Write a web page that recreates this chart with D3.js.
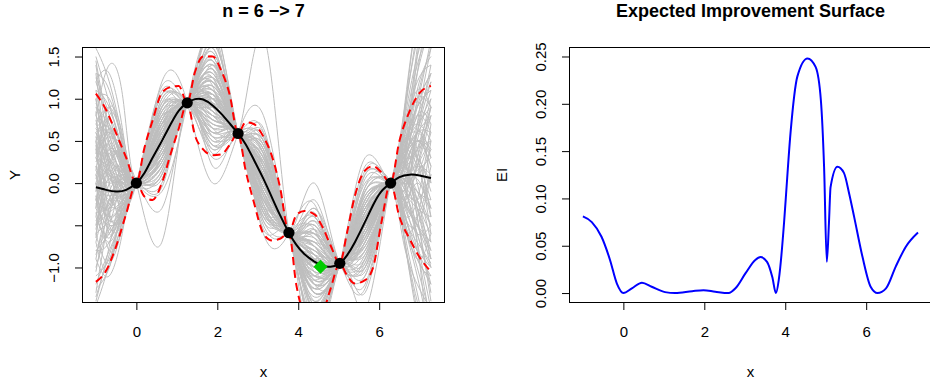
<!DOCTYPE html>
<html lang="en">
<head>
<meta charset="UTF-8">
<title>GP / EI</title>
<script src="https://cdn.jsdelivr.net/npm/d3@7"></script>
<style>
  body { margin: 0; background: #ffffff; }
  text { font-family: "Liberation Sans", Arial, Helvetica, sans-serif; fill: #000; }
  .tick text { font-size: 15px; }
  text.lab { font-size: 15px; }
  text.title { font-size: 18px; font-weight: bold; }
</style>
</head>
<body>
<div id="chart"></div>
<script>
// observed design points (black dots) and the chosen next point (green diamond)
const obsX = [0, 1.257, 2.513, 3.77, 5.027, 6.283];
const obsY = [0, 0.951, 0.588, -0.588, -0.951, 0];
const nextX = [4.55];
const nextY = [-0.99];

// predictive mean and 90% band
const bandX = [-1, -0.75, -0.5, -0.25, 0, 0.2, 0.4, 0.63, 0.85, 1.05, 1.257, 1.45, 1.65, 1.885, 2.1, 2.3, 2.513,
  2.7, 2.9, 3.14, 3.35, 3.55, 3.77, 3.95, 4.15, 4.4, 4.6, 4.8, 5.027, 5.2, 5.4, 5.65, 5.85, 6.05, 6.283, 6.5, 6.75, 7.0, 7.28];
const meanY = [-0.05, -0.08, -0.10, -0.08, 0.0, 0.12, 0.3, 0.5, 0.70, 0.86, 0.951, 0.995, 0.99, 0.92, 0.82, 0.71, 0.588,
  0.46, 0.28, 0.05, -0.17, -0.38, -0.588, -0.73, -0.84, -0.93, -0.98, -0.99, -0.951, -0.86, -0.70, -0.46, -0.26, -0.1, 0.0, 0.07, 0.10, 0.09, 0.06];
const upperY = [1.06, 0.87, 0.59, 0.3, 0.0, 0.42, 0.74, 1.07, 1.14, 1.15, 0.951, 1.32, 1.5, 1.5, 1.33, 1.06, 0.588,
  0.72, 0.70, 0.55, 0.32, -0.05, -0.588, -0.38, -0.33, -0.37, -0.52, -0.74, -0.951, -0.6, -0.15, 0.15, 0.2, 0.13, 0.0, 0.5, 0.85, 1.07, 1.15];
const lowerY = [-1.17, -1.04, -0.75, -0.36, 0.0, -0.16, -0.2, 0.0, 0.35, 0.65, 0.951, 0.56, 0.40, 0.33, 0.34, 0.45, 0.588,
  0.15, -0.22, -0.6, -0.68, -0.66, -0.588, -1.2, -1.55, -1.65, -1.55, -1.25, -0.951, -1.09, -1.19, -1.15, -1.0, -0.48, 0.0, -0.4, -0.66, -0.88, -1.05];

// gray posterior sample paths: values between the design points (they all pass through the dots)
const grayFreeX = [-1, -0.67, -0.33, 0.63, 1.885, 3.14, 4.4, 5.65, 6.6, 6.94, 7.28];
const grayPaths = [
  [0.9, 0.5, 0.15, 0.75, 1.2, 0.2, -0.7, -0.3, 0.3, 0.6, 0.8],
  [-0.8, -0.6, -0.3, 0.3, 0.7, -0.2, -1.2, -0.7, -0.2, -0.5, -0.7],
  [0.3, 0.6, 0.25, 0.9, 1.35, 0.4, -0.5, -0.2, 0.45, 0.9, 1.1],
  [-0.3, -0.5, -0.35, 0.15, 0.5, -0.35, -1.4, -0.9, -0.35, -0.7, -0.95],
  [1.2, 0.7, 0.2, 0.6, 1.05, 0.1, -0.9, -0.45, 0.1, 0.2, 0.1],
  [-1.1, -0.9, -0.45, 0.4, 0.85, 0.05, -1.0, -0.5, 0.05, -0.1, -0.3],
  [0.1, -0.2, -0.15, 0.55, 1.45, 0.55, -0.4, 0.05, 0.6, 1.0, 1.3],
  [0.6, 0.1, -0.2, 0.0, 0.4, -0.45, -1.5, -1.0, -0.45, -0.9, -1.2],
  [-0.5, 0.2, 0.3, 1.0, 0.95, -0.1, -0.8, -0.6, 0.25, 0.3, -0.1],
  [0.4, -0.4, -0.4, 0.25, 1.1, 0.3, -1.1, -0.25, -0.1, 0.4, 0.9],
  [1.5, 0.95, 0.3, 0.7, 0.6, -0.25, -0.6, -0.8, 0.35, -0.2, -0.6],
  [-1.3, -0.4, 0.1, 0.45, 1.3, 0.15, -1.3, -0.1, -0.3, 0.7, 1.6],
  [0.0, 0.35, -0.05, 0.85, 0.8, 0.35, -0.95, -0.55, 0.5, 1.3, 1.9],
  [0.7, 0.85, 0.35, 0.2, 1.55, -0.05, -0.75, -0.35, -0.4, -1.0, -1.6],
  [-0.6, -0.95, -0.5, 0.6, 0.3, 0.45, -1.6, -0.75, 0.2, 0.1, 0.4],
  [0.2, 0.0, 0.0, 1.15, 1.0, -0.5, -0.55, 0.15, 0.15, 0.5, 0.3],
  [-0.2, 0.4, 0.2, -0.1, 1.75, 0.25, -1.25, -1.1, -0.15, -0.4, 0.2],
  [1.0, 1.0, 0.45, 0.5, 0.65, 0.6, -0.3, -0.4, 0.0, -0.6, -1.0],
  [-0.9, -0.2, 0.05, 0.35, 1.25, -0.3, -1.05, 0.0, 0.4, 0.8, 0.6],
  [0.5, -0.6, -0.25, 0.7, 0.9, 0.0, -1.75, -0.65, -0.5, -0.4, 0.5],
  [-0.1, 0.65, 0.1, 0.95, 0.55, 0.2, -0.45, -0.95, 0.25, 1.1, 1.5],
  [1.3, 0.2, -0.3, 0.4, 1.4, -0.4, -0.85, -0.2, 0.1, -0.3, -0.9],
  [-0.7, -1.0, -0.2, 0.55, 1.05, 0.5, -1.35, -0.45, 0.55, 0.3, -0.2],
  [0.3, 0.2, 0.15, -0.7, 0.2, -0.15, -0.7, -1.25, -0.2, 0.2, 0.9],
  [-1.4, -0.75, -0.1, 0.8, 1.9, 0.1, -0.0, -0.6, 0.3, -0.7, -2.2],
  [0.8, 1.4, 1.0, 0.65, 0.75, -0.1, -1.2, 0.3, 0.7, 2.0, 2.6],
  [-0.4, 0.1, -0.4, 0.3, 1.15, 1.75, -0.9, -0.35, -0.6, -1.4, -2.0],
  [1.45, 0.6, 0.0, 0.45, 1.65, -0.3, -2.0, -1.5, -0.1, 0.6, 0.0],
  [0.1, -0.3, 0.25, 1.2, 0.0, 0.8, -1.15, -0.75, 0.8, 1.7, 2.3],
  [-1.0, -0.55, -0.35, 0.1, 0.6, -0.6, -0.25, -0.05, -0.7, -1.2, -1.5],
  [0.55, 0.3, 0.05, 0.6, 1.0, 0.15, -1.0, -0.5, 0.1, 0.05, -0.3],
  [-0.2, -0.3, -0.1, 0.5, 0.85, 0.0, -0.85, -0.4, 0.05, 0.15, 0.3],
  [0.2, 0.1, -0.05, 0.65, 1.1, 0.1, -1.05, -0.6, 0.2, 0.4, 0.5],
  [-0.5, -0.35, -0.2, 0.35, 0.75, -0.1, -0.75, -0.3, -0.1, -0.3, -0.4],
  [0.7, 0.4, 0.1, 0.4, 0.95, 0.25, -0.95, -0.35, 0.15, -0.1, -0.5],
  [-0.05, -0.15, -0.1, 0.55, 1.2, -0.2, -1.15, -0.55, 0.0, 0.6, 1.0],
  [0.4, 0.25, 0.1, 0.75, 0.7, 0.05, -0.65, -0.7, 0.3, 0.5, 0.2],
  [-0.6, -0.45, -0.25, 0.25, 1.0, 0.35, -1.2, -0.2, -0.25, -0.6, -0.5],
  [0.95, 0.55, 0.2, 0.5, 0.8, -0.35, -0.9, -0.45, 0.2, 0.8, 0.7],
  [-0.25, 0.05, 0.0, 0.6, 1.3, 0.3, -0.6, -0.85, -0.05, -0.2, 0.1],
  [0.15, -0.1, -0.15, 0.45, 0.9, -0.05, -1.3, -0.3, 0.35, 0.3, 0.0],
  [-0.8, -0.7, -0.3, 0.7, 1.05, 0.2, -0.8, -0.65, -0.15, -0.5, -0.8],
  [0.6, 0.65, 0.25, 0.3, 0.65, -0.2, -1.0, -0.15, 0.45, 0.6, 0.4],
  [-0.35, -0.25, 0.05, 0.9, 1.15, 0.1, -0.7, -0.5, 0.0, 0.1, 0.6],
  [0.25, 0.45, 0.15, 0.2, 0.85, 0.4, -1.1, -0.4, 0.2, 0.9, 1.3],
  [1.1, 0.3, -0.15, 0.65, 1.35, -0.15, -0.95, -0.7, -0.3, -0.8, -1.1],
  [-0.45, -0.1, 0.15, 0.4, 0.6, 0.0, -1.45, -0.3, 0.1, -0.2, -0.9],
  [0.0, -0.45, -0.3, 0.75, 1.0, -0.3, -0.5, -0.9, 0.35, 0.7, 1.4],
  [-1.2, -0.8, -0.4, 0.35, 1.2, 0.5, -0.85, -0.1, -0.4, -0.9, -0.6],
  [0.35, 0.75, 0.3, 0.55, 0.45, 0.15, -1.25, -0.6, 0.5, 0.4, -0.4],
  [0.5, 0.9, 0.4, 1.05, 1.6, 0.45, -0.35, 0.1, 0.65, 1.5, 2.0],
  [-0.9, -1.1, -0.55, -0.05, 0.35, -0.55, -1.55, -1.05, -0.5, -1.3, -2.1],
  [1.3, 1.1, 0.4, 0.85, 1.5, 0.5, -0.45, -0.1, 0.55, 1.2, 1.4],
  [-1.35, -0.85, -0.35, 0.1, 0.45, -0.4, -1.45, -0.95, -0.4, -0.8, -1.0],
  [0.05, 0.5, 0.35, 0.95, 1.7, 0.1, -0.6, -0.2, 0.35, 0.95, 1.7],
  [0.75, 0.0, -0.45, 0.05, 0.55, -0.25, -1.6, -0.85, 0.0, 0.6, 1.2],
  [-0.15, -0.65, -0.2, 0.8, 1.8, 0.35, -0.55, -0.15, 0.4, 0.0, -0.7],
  [1.0, 0.15, 0.1, 0.3, 0.55, 0.5, -1.1, -1.2, -0.3, 0.3, 1.0],
  [-0.65, 0.3, 0.2, 1.1, 1.4, -0.45, -0.4, -0.7, 0.6, 1.4, 1.8],
  [0.3, -0.15, -0.3, -0.3, 0.95, 0.2, -1.7, -0.3, -0.45, -1.1, -1.9],
  [1.4, 0.45, -0.1, 0.9, 0.4, 0.05, -0.9, 0.2, 0.25, -0.4, -1.3],
  [-0.3, 0.8, 0.45, 0.4, 1.45, -0.05, -1.2, -0.8, 0.3, 1.6, 2.4],
  [0.85, -0.35, -0.4, 0.7, 1.25, 0.65, -0.55, -0.55, -0.1, 0.5, 1.1],
  [-1.05, -0.3, 0.0, 0.2, 0.85, -0.15, -0.85, -1.0, -0.6, -1.5, -2.4],
  [0.0, -0.8, -0.5, 0.55, 1.55, 0.25, -1.3, -0.25, 0.45, 0.7, 0.5],
  [0.65, 0.7, 0.25, 0.15, 0.75, -0.3, -0.75, -0.05, 0.2, 1.3, 2.2],
  [-0.5, -0.2, 0.1, 1.0, 1.05, 0.45, -1.4, -0.65, -0.2, 0.0, -0.4],
  [1.2, 1.3, 0.6, 0.6, 1.85, -0.2, -0.6, -1.1, 0.05, -0.7, -1.5],
  [-0.2, 0.15, -0.2, 0.5, 0.45, 0.35, -1.0, -0.3, 0.7, 1.8, 2.5],
  [0.45, -0.5, -0.45, 0.35, 1.1, -0.4, -1.85, -0.55, -0.35, -0.2, 0.7],
  [-0.75, -0.5, 0.0, 0.65, 1.45, 0.15, -0.3, -0.9, 0.1, 0.6, 0.3],
  [0.9, 0.65, 0.1, 0.25, 0.9, 0.55, -1.25, -0.4, 0.25, -0.3, -1.0],
  [-0.1, 0.25, 0.35, 0.8, 1.25, -0.25, -0.65, -0.25, -0.3, -0.9, -1.1],
  [0.2, -0.25, -0.25, 0.55, 0.5, 0.1, -1.1, -0.75, 0.15, 1.0, 1.6],
  [1.0, 0.2, -0.2, 0.7, 1.6, 0.3, -0.8, -0.15, 0.5, 0.3, -0.6],
  [-1.25, -1.0, -0.4, 0.45, 0.8, -0.1, -1.5, -1.0, 0.0, 0.2, 0.8],
  [0.35, 0.55, 0.3, 0.9, 1.0, 0.2, -0.5, -0.35, -0.2, -0.8, -1.7],
  [-0.4, -0.6, -0.15, 0.2, 1.35, 0.6, -1.0, 0.1, 0.35, 0.9, 1.1],
  [0.6, 0.25, -0.1, 0.6, 0.65, -0.35, -1.15, -0.8, 0.6, 1.1, 0.9],
  [-0.6, 0.0, 0.2, 0.75, 1.15, 0.0, -0.7, -0.5, -0.35, -0.5, 0.1],
  [1.25, 0.8, 0.2, 0.4, 1.0, 0.3, -1.05, -0.45, 0.3, 0.6, 0.6],
  [-0.35, -0.7, -0.35, 0.5, 1.2, -0.15, -0.95, -0.6, 0.0, -0.3, -0.8],
  [0.1, 0.4, 0.25, 0.7, 0.85, 0.15, -1.2, -0.35, 0.4, 0.7, 0.9],
  [0.5, -0.1, -0.05, 0.3, 1.05, -0.1, -0.6, -0.55, -0.1, 0.2, 0.5],
  [-0.85, -0.35, -0.05, 0.6, 0.9, 0.3, -1.0, -0.7, 0.2, 0.5, 0.2],
  [0.8, 0.45, 0.05, 0.45, 1.2, 0.05, -0.85, -0.25, -0.05, -0.5, -0.9],
  [-0.15, -0.4, -0.25, 0.85, 1.05, -0.2, -1.1, -0.45, 0.3, 0.5, 0.4],
  [0.3, 0.15, 0.05, 0.4, 0.8, 0.35, -0.9, -0.65, 0.1, -0.1, -0.2],
  [-0.55, 0.1, 0.15, 0.55, 1.4, 0.1, -0.8, -0.3, 0.15, 0.4, 0.8],
  [0.65, 0.3, -0.05, 0.65, 0.7, -0.05, -1.3, -0.5, 0.4, 0.2, -0.3],
  [1.6, 1.2, 0.5, 0.3, 1.3, 0.05, -0.75, -0.6, 0.2, 1.5, 2.6],
  [-1.45, -0.95, -0.3, 0.75, 0.6, -0.2, -1.3, -0.4, -0.6, -1.6, -2.5],
  [0.15, 0.9, 0.55, 0.1, 1.25, 0.4, -0.4, -0.1, 0.8, 2.0, 2.7],
  [-0.7, -0.2, -0.25, 1.05, 0.9, -0.35, -1.8, -1.3, -0.2, 0.6, 1.3],
  [0.4, 0.6, 0.2, 0.6, 1.5, 0.25, -0.2, -0.45, 0.3, -0.4, -1.4],
  [1.1, 0.9, 0.35, 0.5, 0.95, -0.05, -1.0, -0.5, 0.5, 1.0, 0.9],
  [-0.2, -0.55, -0.4, 0.3, 1.1, 0.2, -0.9, -0.2, -0.15, -0.6, -1.2],
  [0.55, 0.05, 0.0, 0.8, 0.75, 0.05, -1.0, -0.55, 0.0, 0.3, 0.9],
  [-0.3, 0.35, 0.2, 0.45, 1.0, -0.25, -0.75, -0.35, 0.35, 0.8, 1.2],
  [0.0, -0.1, 0.0, 0.6, 1.15, 0.1, -1.15, -0.4, 0.05, -0.2, -0.5]
];

// expected improvement, right panel
const eiX = [-1, -0.78, -0.54, -0.33, -0.16, 0, 0.21, 0.46, 0.70, 1.03, 1.28, 1.70, 1.98, 2.27, 2.6, 2.77, 3.02, 3.26,
  3.39, 3.55, 3.68, 3.77, 3.84, 3.97, 4.01, 4.13, 4.3, 4.55, 4.75, 4.88, 4.96, 5.027, 5.08, 5.12, 5.29, 5.45, 5.58,
  5.70, 5.91, 6.11, 6.28, 6.49, 6.73, 6.98, 7.28];
const eiY = [0.081, 0.075, 0.0595, 0.035, 0.010, 0.0, 0.005, 0.011, 0.0067, 0.001, 0.0, 0.002, 0.003, 0.0014, 0.0, 0.005,
  0.021, 0.035, 0.038, 0.033, 0.017, 0.0, 0.014, 0.074, 0.098, 0.169, 0.229, 0.248, 0.239, 0.204, 0.133, 0.033, 0.074,
  0.112, 0.1335, 0.127, 0.105, 0.081, 0.038, 0.0067, 0.0, 0.005, 0.028, 0.049, 0.064];

const xTicks = [0, 2, 4, 6];
const yTicksL = [-1, -0.5, 0, 0.5, 1, 1.5];
const yTicksR = [0, 0.05, 0.10, 0.15, 0.20, 0.25];

const W = 930, H = 383;
const svg = d3.select("#chart").append("svg")
    .attr("width", W)
    .attr("height", H)
    .style("background", "#fff");

const plotTop = 47.5, plotBottom = 302.5;
const xDom = [-1.331, 7.614];

function makePanel(x0, x1, yDom, yTicks, yFmt, title, ylab, id) {
    const x = d3.scaleLinear().domain(xDom).range([x0, x1]);
    const y = d3.scaleLinear().domain(yDom).range([plotBottom, plotTop]);
    const cx = (x0 + x1) / 2;

    svg.append("clipPath").attr("id", id)
        .append("rect").attr("x", x0).attr("y", plotTop).attr("width", x1 - x0).attr("height", plotBottom - plotTop);

    // x axis
    const gx = svg.append("g")
        .attr("transform", "translate(0," + plotBottom + ")")
        .call(d3.axisBottom(x).tickValues(xTicks).tickSize(7.5).tickPadding(16).tickFormat(d3.format("d")));
    gx.select(".domain").remove();
    gx.selectAll("line").attr("stroke", "#000");

    // y axis, labels turned like R's las = 0
    const gy = svg.append("g")
        .attr("transform", "translate(" + x0 + ",0)")
        .call(d3.axisLeft(y).tickValues(yTicks).tickSize(7.5).tickFormat(yFmt));
    gy.select(".domain").remove();
    gy.selectAll("line").attr("stroke", "#000");
    gy.selectAll("text")
        .attr("transform", "rotate(-90)")
        .attr("x", 0)
        .attr("y", -28.9)
        .attr("dy", "0.35em")
        .style("text-anchor", "middle");

    svg.append("text").attr("class", "title")
        .attr("x", cx).attr("y", 17)
        .attr("text-anchor", "middle")
        .text(title);
    svg.append("text").attr("class", "lab")
        .attr("x", cx).attr("y", 376.5)
        .attr("text-anchor", "middle")
        .text("x");
    svg.append("text").attr("class", "lab")
        .attr("transform", "translate(" + (x0 - 67.5) + "," + ((plotTop + plotBottom) / 2) + ") rotate(-90)")
        .attr("dy", "0.35em")
        .attr("text-anchor", "middle")
        .text(ylab);

    const plot = svg.append("g").attr("clip-path", "url(#" + id + ")");
    return {x: x, y: y, plot: plot, x0: x0, x1: x1};
}

const fmtL = d => d === -0.5 ? "" : (d < 0 ? "\u2212" : "") + Math.abs(d).toFixed(1);
const fmtR = d => d.toFixed(2);

// ---- left panel ----
const L = makePanel(82.5, 444.5, [-1.415, 1.607], yTicksL, fmtL, "n = 6 \u2212> 7", "Y", "clipL");

const lineL = d3.line().x(d => L.x(d[0])).y(d => L.y(d[1]));

L.plot.selectAll("path.gray")
    .data(grayPaths)
    .enter().append("path")
    .attr("class", "gray")
    .attr("fill", "none")
    .attr("stroke", "#bebebe")
    .attr("stroke-width", 1)
    .attr("d", function (row) {
        const pts = row.map((v, i) => [grayFreeX[i], v])
            .concat(obsX.map((v, i) => [v, obsY[i]]))
            .sort((a, b) => a[0] - b[0]);
        return lineL.curve(d3.curveNatural)(pts);
    });

[upperY, lowerY].forEach(function (ys) {
    L.plot.append("path")
        .datum(bandX.map((v, i) => [v, ys[i]]))
        .attr("fill", "none")
        .attr("stroke", "#ff0000")
        .attr("stroke-width", 2)
        .attr("stroke-dasharray", "8,5")
        .attr("d", lineL.curve(d3.curveMonotoneX));
});

L.plot.append("path")
    .datum(bandX.map((v, i) => [v, meanY[i]]))
    .attr("fill", "none")
    .attr("stroke", "#000")
    .attr("stroke-width", 2)
    .attr("d", lineL.curve(d3.curveNatural));

L.plot.selectAll("circle.obs")
    .data(obsX)
    .enter().append("circle")
    .attr("class", "obs")
    .attr("cx", d => L.x(d))
    .attr("cy", (d, i) => L.y(obsY[i]))
    .attr("r", 5.6)
    .attr("fill", "#000");

L.plot.selectAll("path.next")
    .data(nextX)
    .enter().append("path")
    .attr("class", "next")
    .attr("transform", (d, i) => "translate(" + L.x(d) + "," + L.y(nextY[i]) + ") rotate(45)")
    .attr("d", d3.symbol().type(d3.symbolSquare).size(98)())
    .attr("fill", "#00cd00");

// box
svg.append("rect").attr("x", L.x0).attr("y", plotTop).attr("width", L.x1 - L.x0).attr("height", plotBottom - plotTop)
    .attr("fill", "none").attr("stroke", "#000").attr("stroke-width", 1);

// ---- right panel ----
const R = makePanel(569.5, 931.5, [-0.00998, 0.2595], yTicksR, fmtR, "Expected Improvement Surface", "EI", "clipR");

R.plot.append("path")
    .datum(eiX.map((v, i) => [v, eiY[i]]))
    .attr("fill", "none")
    .attr("stroke", "#0000ff")
    .attr("stroke-width", 2)
    .attr("stroke-linejoin", "round")
    .attr("d", d3.line().x(d => R.x(d[0])).y(d => R.y(d[1])).curve(d3.curveMonotoneX));

svg.append("rect").attr("x", R.x0).attr("y", plotTop).attr("width", R.x1 - R.x0).attr("height", plotBottom - plotTop)
    .attr("fill", "none").attr("stroke", "#000").attr("stroke-width", 1);
</script>
</body>
</html>
